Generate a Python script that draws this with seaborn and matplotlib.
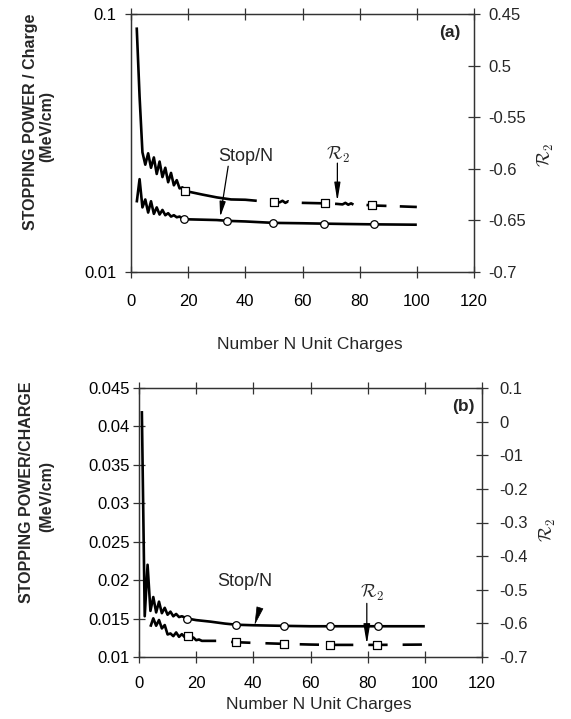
import numpy as np
import matplotlib
matplotlib.use("Agg")
import matplotlib.pyplot as plt
import seaborn as sns
from matplotlib.ticker import NullLocator

# ---------------- data : panel (a) ----------------
n_a_stop = [2, 3, 4, 5, 6, 7, 8, 9, 10, 11, 12, 13, 14, 15, 16, 17, 18, 20, 25, 30, 34, 40, 50, 60, 67, 75, 85, 100]
stop_a = [0.0186, 0.0229, 0.0178, 0.0191, 0.0170, 0.0188, 0.0168, 0.0178, 0.0167, 0.0174, 0.0166, 0.0169,
          0.0164, 0.0166, 0.0163, 0.0164, 0.0161, 0.0160, 0.01595, 0.0159, 0.01578, 0.0157, 0.0155,
          0.01545, 0.0154, 0.01535, 0.0153, 0.01525]
circ_a_n = [18.5, 33.7, 49.6, 67.5, 85]
circ_a_v = [0.0160, 0.01578, 0.0155, 0.0154, 0.0153]

n_a_r2_solid = [2, 3, 4, 5, 6, 7, 8, 9, 10, 11, 12, 13, 14, 15, 16, 17, 18, 19, 25, 30, 35, 40, 44]
r2_a_solid = [-0.463, -0.53, -0.584, -0.596, -0.585, -0.599, -0.589, -0.605, -0.593, -0.608, -0.599, -0.613,
              -0.604, -0.616, -0.611, -0.619, -0.618, -0.6215, -0.625, -0.6277, -0.6297, -0.630, -0.631]
n_a_r2_dash = [44, 49, 52, 53, 54, 55, 56, 60, 68, 72, 74, 75, 76, 77, 78, 79, 84, 90, 100]
r2_a_dash = [-0.631, -0.632, -0.6325, -0.631, -0.633, -0.6315, -0.6325, -0.633, -0.6335, -0.634, -0.6345,
             -0.633, -0.6348, -0.6335, -0.635, -0.634, -0.6355, -0.636, -0.637]
sq_a_n = [18.9, 50, 67.9, 84.4]
sq_a_v = [-0.6215, -0.632, -0.6335, -0.6355]

# ---------------- data : panel (b) ----------------
n_b_stop = [1, 2, 3, 4, 5, 6, 7, 8, 9, 10, 11, 12, 13, 14, 15, 17, 20, 25, 30, 34, 40, 51, 60, 67, 84, 100]
stop_b = [0.0420, 0.0153, 0.0220, 0.0160, 0.0178, 0.0158, 0.0172, 0.0157, 0.0164, 0.0155, 0.0159, 0.0153,
          0.0156, 0.0152, 0.0153, 0.0150, 0.0148, 0.0146, 0.01435, 0.0142, 0.01413, 0.01405, 0.0140,
          0.0140, 0.0140, 0.0140]
circ_b_n = [16.7, 33.8, 50.8, 66.8, 83.7]
circ_b_v = [0.0150, 0.0142, 0.01405, 0.0140, 0.0140]

n_b_r2_solid = [4, 5, 6, 7, 8, 9, 10, 11, 12, 13, 14, 15, 16, 17, 18, 19, 20, 21, 22, 27]
r2_b_solid = [-0.610, -0.585, -0.607, -0.590, -0.615, -0.605, -0.633, -0.630, -0.638, -0.627, -0.640,
              -0.632, -0.641, -0.638, -0.645, -0.642, -0.650, -0.648, -0.652, -0.652]
n_b_r2_dash = [27, 30, 34, 40, 51, 60, 67, 75, 84, 100]
r2_b_dash = [-0.652, -0.654, -0.656, -0.658, -0.661, -0.663, -0.664, -0.664, -0.664, -0.663]
sq_b_n = [17.3, 33.8, 50.8, 66.8, 83.3]
sq_b_v = [-0.638, -0.656, -0.661, -0.664, -0.664]

# ---------------- axis ticks / labels ----------------
x_ticks = [0, 20, 40, 60, 80, 100, 120]
a_left_ticks = [0.01, 0.1]
a_left_labels = ["0.01", "0.1"]
a_right_ticks = [-0.45, -0.5, -0.55, -0.6, -0.65, -0.7]
a_right_labels = ["0.45", "0.5", "-0.55", "-0.6", "-0.65", "-0.7"]
b_left_ticks = [0.01, 0.015, 0.02, 0.025, 0.03, 0.035, 0.04, 0.045]
b_left_labels = ["0.01", "0.015", "0.02", "0.025", "0.03", "0.035", "0.04", "0.045"]
b_right_ticks = [0.1, 0.0, -0.1, -0.2, -0.3, -0.4, -0.5, -0.6, -0.7]
b_right_labels = ["0.1", "0", "-01", "-0.2", "-0.3", "-0.4", "-0.5", "-0.6", "-0.7"]

sns.set_style("ticks")
plt.rcParams['font.family'] = ['Liberation Sans', 'DejaVu Sans']
plt.rcParams['mathtext.fontset'] = 'cm'
plt.rcParams['lines.scale_dashes'] = False

W, H = 571, 719
fig = plt.figure(figsize=(W / 100, H / 100), dpi=100)


def box(l, t, r, b):
    return [l / W, 1 - b / H, (r - l) / W, (b - t) / H]


def px(x, y):
    return x / W, 1 - y / H


axA = fig.add_axes(box(131, 14, 474, 272))
axA2 = axA.twinx()
axB = fig.add_axes(box(139, 388, 482, 657))
axB2 = axB.twinx()

LW = 1.9
SC = '#333333'


def line(ax, x, y, dashed=False, pattern=(14.0, 10.0)):
    sns.lineplot(x=x, y=y, ax=ax, color='black', linewidth=LW, estimator=None, sort=False, legend=False)
    ln = ax.lines[-1]
    ln.set_solid_capstyle('butt')
    if dashed:
        ln.set_linestyle((pattern[0], pattern))
    return ln


def marks(ax, x, y, marker):
    sns.scatterplot(x=x, y=y, ax=ax, marker=marker, s=30, color='white', edgecolor='black',
                    linewidth=0.9, zorder=5, legend=False)


# panel (a)
axA.set_yscale('log')
line(axA, n_a_stop, stop_a)
marks(axA, circ_a_n, circ_a_v, 'o')
line(axA2, n_a_r2_solid, r2_a_solid)
line(axA2, n_a_r2_dash, r2_a_dash, dashed=True, pattern=(14.4, 9.6))
marks(axA2, sq_a_n, sq_a_v, 's')

# panel (b)
line(axB, n_b_stop, stop_b)
marks(axB, circ_b_n, circ_b_v, 'o')
line(axB2, n_b_r2_solid, r2_b_solid)
line(axB2, n_b_r2_dash, r2_b_dash, dashed=True, pattern=(13.9, 10.8))
marks(axB2, sq_b_n, sq_b_v, 's')

# axes formatting
for ax, ax2 in ((axA, axA2), (axB, axB2)):
    ax.set_xlim(0, 120)
    ax.set_xticks(x_ticks, labels=[str(v) for v in x_ticks])
    for a in (ax, ax2):
        for s in a.spines.values():
            s.set_color(SC)
            s.set_linewidth(0.9)
            s.set_visible(True)
        a.set_xlabel('')
        a.set_ylabel('')
    ax.tick_params(axis='both', which='major', direction='inout', length=9, width=0.9, color=SC,
                   labelsize=12, top=True, labelcolor='black')
    ax2.tick_params(axis='y', which='major', direction='inout', length=9, width=0.9, color=SC,
                    labelsize=12, right=True, pad=6)

axA.tick_params(axis='x', pad=11.5)
axB.tick_params(axis='x', pad=9.5)

axA.set_ylim(0.01, 0.1)
axA.set_yticks(a_left_ticks, labels=a_left_labels)
axA.yaxis.set_minor_locator(NullLocator())
axA.tick_params(axis='y', pad=6)
axA2.set_ylim(-0.7, -0.45)
axA2.set_yticks(a_right_ticks, labels=a_right_labels)

axB.set_ylim(0.01, 0.045)
axB.set_yticks(b_left_ticks, labels=b_left_labels)
axB.tick_params(axis='y', pad=2)
axB2.set_ylim(-0.7, 0.1)
axB2.set_yticks(b_right_ticks, labels=b_right_labels)
axB2.tick_params(axis='y', pad=8)

# annotations panel (a)
axA.text(40, 0.0280, 'Stop/N', ha='center', va='center', fontsize=13)
axA.annotate('', xy=(31.2, 0.01635), xytext=(34.0, 0.0257), fontsize=10,
             arrowprops=dict(arrowstyle='-|>,head_length=0.9,head_width=0.18', color='black', lw=0.9,
                             shrinkA=0, shrinkB=0))
axA2.text(72.5, -0.5866, r'$\mathcal{R}_2$', ha='center', va='center', fontsize=13)
axA2.annotate('', xy=(72.2, -0.6315), xytext=(72.2, -0.5945), fontsize=10,
              arrowprops=dict(arrowstyle='-|>,head_length=1.1,head_width=0.18', color='black', lw=0.9,
                              shrinkA=0, shrinkB=0))
axA.text(0.93, 0.93, '(a)', transform=axA.transAxes, ha='center', va='center', fontsize=12.5,
         fontweight='bold')

# annotations panel (b)
axB.text(37.1, 0.0198, 'Stop/N', ha='center', va='center', fontsize=13)
axB.annotate('', xy=(40.6, 0.01435), xytext=(42.3, 0.0164), fontsize=10,
             arrowprops=dict(arrowstyle='wedge,tail_width=0.45,shrink_factor=0.5', color='black', lw=0.5,
                             shrinkA=0, shrinkB=0))
axB2.text(81.6, -0.511, r'$\mathcal{R}_2$', ha='center', va='center', fontsize=13)
axB2.annotate('', xy=(79.7, -0.662), xytext=(79.7, -0.5405), fontsize=10,
              arrowprops=dict(arrowstyle='-|>,head_length=1.2,head_width=0.2', color='black', lw=0.9,
                              shrinkA=0, shrinkB=0))
axB.text(0.945, 0.93, '(b)', transform=axB.transAxes, ha='center', va='center', fontsize=12.5,
         fontweight='bold')

# figure-level labels
fig.text(*px(31, 122), 'STOPPING POWER / Charge', rotation=90, ha='center', va='center',
         fontsize=11.5, fontweight='bold')
fig.text(*px(47, 126), '(MeV/cm)', rotation=90, ha='center', va='center', fontsize=11.5, fontweight='bold')
fig.text(*px(27, 492), 'STOPPING POWER/CHARGE', rotation=90, ha='center', va='center',
         fontsize=11.5, fontweight='bold')
fig.text(*px(47, 496), '(MeV/cm)', rotation=90, ha='center', va='center', fontsize=11.5, fontweight='bold')
fig.text(*px(546, 155), r'$\mathcal{R}_2$', rotation=90, ha='center', va='center', fontsize=13)
fig.text(*px(548, 530), r'$\mathcal{R}_2$', rotation=90, ha='center', va='center', fontsize=13)
fig.text(*px(310, 345), 'Number N Unit Charges', ha='center', va='center', fontsize=12.5)
fig.text(*px(319, 705), 'Number N Unit Charges', ha='center', va='center', fontsize=12.5)

fig.savefig('out.png', dpi=100, facecolor='white')
